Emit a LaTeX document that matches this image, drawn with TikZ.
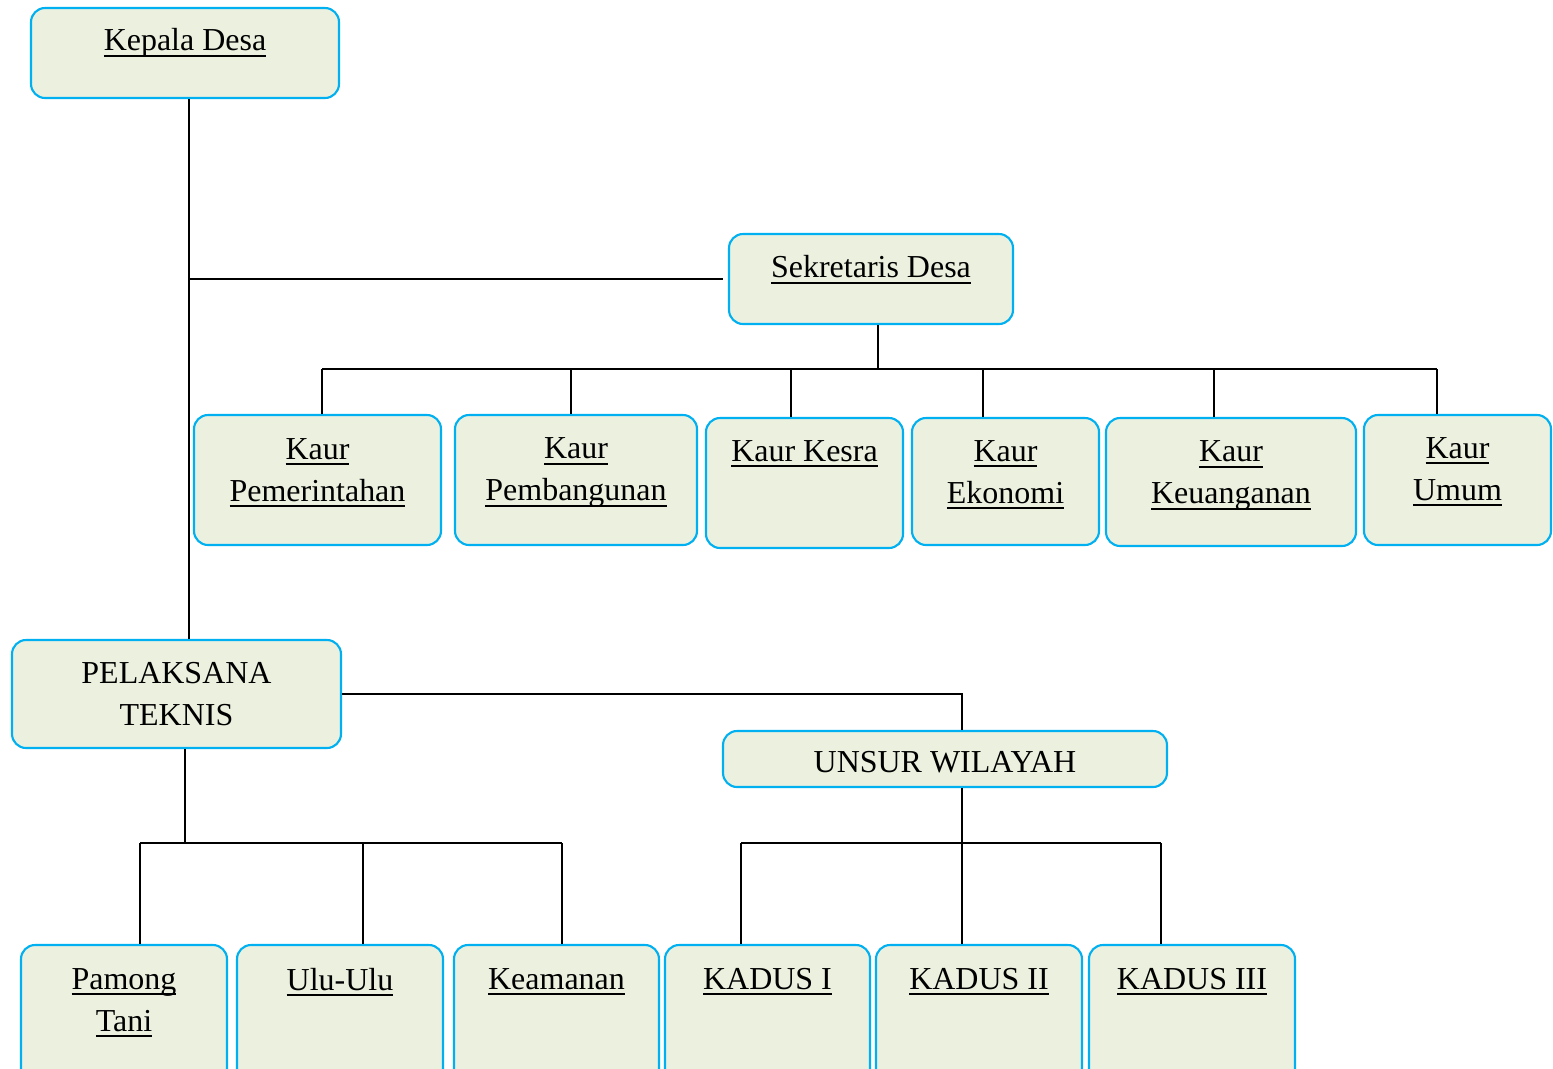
\documentclass[tikz,border=0pt]{standalone}
\usepackage{fontspec}
\setmainfont{Liberation Serif}
\usetikzlibrary{positioning,calc}
\definecolor{boxfill}{RGB}{235,241,222}
\definecolor{boxline}{RGB}{0,176,240}
\newcommand\udl[1]{\leavevmode\setbox0\hbox{#1}\rlap{\vrule width\wd0 height -2.2pt depth 3.3pt}\box0}
\begin{document}
\begin{tikzpicture}[x=0.02cm,y=-0.02cm,box/.style={draw=boxline,fill=boxfill,line width=1.2pt,rounded corners=0.28cm,inner sep=0},lb/.style={font=\fontsize{18.2}{23.9}\selectfont,align=center,inner sep=0},ln/.style={line width=1pt}]
\clip (0,0) rectangle (1553,1069);
% top level
\node[box,minimum width=6.16cm,minimum height=1.8cm] (kepala) at (185,53) {};
\node[lb,below=0.43cm of kepala.north] (tkepala) {\udl{Kepala Desa}};
\node[box,minimum width=5.68cm,minimum height=1.8cm] (sekdes) at (871,279) {};
\node[lb,below=0.45cm of sekdes.north] (tsekdes) {\udl{Sekretaris Desa}};
% kaur
\node[box,minimum width=4.94cm,minimum height=2.6cm] (kpem) at (317.5,480) {};
\node[lb,below=0.48cm of kpem.north] (tkpem) {\udl{Kaur}\\\udl{Pemerintahan}};
\node[box,minimum width=4.84cm,minimum height=2.6cm] (kpbg) at (576,480) {};
\node[lb,below=0.47cm of kpbg.north] (tkpbg) {\udl{Kaur}\\\udl{Pembangunan}};
\node[box,minimum width=3.94cm,minimum height=2.6cm] (kkesra) at (804.5,483) {};
\node[lb,below=0.46cm of kkesra.north] (tkkesra) {\udl{Kaur Kesra}};
\node[box,minimum width=3.74cm,minimum height=2.54cm] (keko) at (1005.5,481.5) {};
\node[lb,below=0.46cm of keko.north] (tkeko) {\udl{Kaur}\\\udl{Ekonomi}};
\node[box,minimum width=5.0cm,minimum height=2.56cm] (kkeu) at (1231,482) {};
\node[lb,below=0.47cm of kkeu.north] (tkkeu) {\udl{Kaur}\\\udl{Keuanganan}};
\node[box,minimum width=3.74cm,minimum height=2.6cm] (kumum) at (1457.5,480) {};
\node[lb,below=0.46cm of kumum.north] (tkumum) {\udl{Kaur}\\\udl{Umum}};
% pelaksana / wilayah
\node[box,minimum width=6.58cm,minimum height=2.16cm] (teknis) at (176.5,694) {};
\node[lb,below=0.47cm of teknis.north] (tteknis) {PELAKSANA\\TEKNIS};
\node[box,minimum width=8.88cm,minimum height=1.12cm] (unsur) at (945,759) {};
\node[lb,below=0.42cm of unsur.north] (tunsur) {UNSUR WILAYAH};
% bottom row
\foreach \n/\x/\w/\t in {tani/124/4.12/{\udl{Pamong}\\\udl{Tani}},ulu/340/4.12/{\udl{Ulu-Ulu}},aman/556.5/4.1/{\udl{Keamanan}},kda/767.5/4.1/{\udl{KADUS I}},kdb/979/4.12/{\udl{KADUS II}},kdc/1192/4.12/{\udl{KADUS III}}}{
  \node[box,minimum width=\w cm,minimum height=3.1cm] (\n) at (\x,1022.5) {};
  \node[lb,below=0.48cm of \n.north] (t\n) {\t};
}
% connectors
\coordinate (trunk) at (189,279);
\draw[ln] (kepala.south -| trunk) -- (teknis.north -| trunk);
\draw[ln,shorten >=0.1cm] (trunk) -- (sekdes.west);
\draw[ln] (sekdes.south -| 878,0) -- (878,369);
\draw[ln] (322,369) -- (1437,369);
\foreach \n/\x in {kpem/322,kpbg/571,kkesra/791,keko/983,kkeu/1214,kumum/1437}
  \draw[ln] (\x,369) -- (\x,369 |- \n.north);
\draw[ln] (teknis.east) -| (962,0 |- unsur.north);
\draw[ln] (teknis.south -| 185,0) -- (185,843);
\draw[ln] (140,843) -- (562,843);
\foreach \n/\x in {tani/140,ulu/363,aman/562}
  \draw[ln] (\x,843) -- (\x,843 |- \n.north);
\draw[ln] (unsur.south -| 962,0) -- (962,843);
\draw[ln] (741,843) -- (1161,843);
\foreach \n/\x in {kda/741,kdb/962,kdc/1161}
  \draw[ln] (\x,843) -- (\x,843 |- \n.north);
\end{tikzpicture}
\end{document}
